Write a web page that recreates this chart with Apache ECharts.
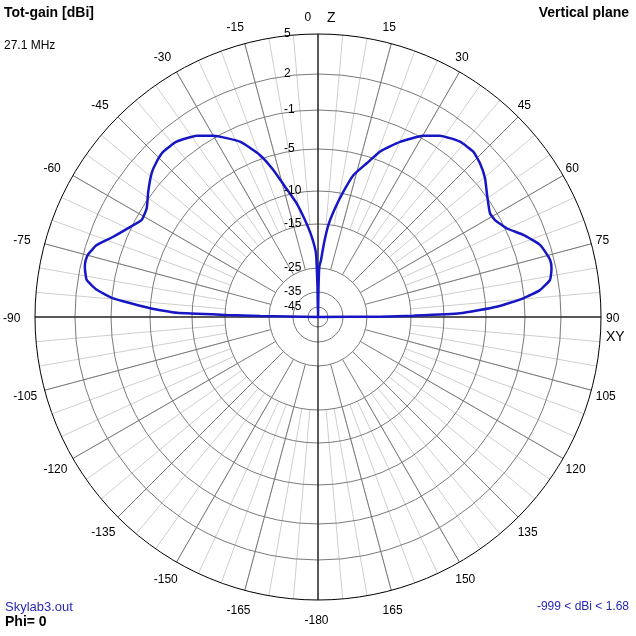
<!DOCTYPE html>
<html><head><meta charset="utf-8">
<script src="https://cdn.jsdelivr.net/npm/echarts@6/dist/echarts.min.js"></script>
<style>html,body{margin:0;padding:0;background:#fff}#c{width:636px;height:636px}</style>
</head><body><div id="c"></div>
<script>
// ---- data (angle from zenith, clockwise; negative = left side) ----
const angles = [-180, -90, -89.0, -88.7, -88.3, -87.0, -84.8, -83.0, -80.9, -77.9, -76.3, -74.6, -72.0, -68.6, -64.0, -61.2, -57.6, -53.6, -49.2, -46.1, -43.1, -38.9, -33.8, -30.0, -24.0, -19.7, -16.9, -14.2, -10.6, -7.6, -4.5, -1.8, -1.0, 0,
  1.0, 1.5, 3.0, 4.65, 6.4, 8.9, 11.4, 14.0, 17.6, 20.6, 25.1, 30.1, 33.9, 39.0, 43.2, 46.5, 50.3, 54.6, 58.9, 61.3, 64.8, 68.2, 72.0, 75.4, 76.8, 78.3, 80.9, 83.1, 84.8, 86.7, 88.5, 89.2, 89.7, 90, 180];
const gains = [-999, -999, -23.0, -15.4, -8.2, -5.0, -1.14, 0.32, 1.27, 1.62, 1.68, 1.58, 1.14, 0.08, -0.97, -1.59, -1.42, -0.67, 0.07, 0.41, 0.62, 0.52, -0.07, -0.8, -2.55, -4.6, -6.7, -9.0, -11.6, -14.3, -17.8, -21.7, -33, -999,
  -33, -24.7, -23.2, -19.3, -15.1, -12.4, -9.8, -7.6, -5.8, -4.1, -2.4, -0.8, -0.04, 0.55, 0.65, 0.36, -0.16, -0.94, -1.63, -1.53, -0.88, 0.18, 1.2, 1.6, 1.68, 1.62, 1.33, 0.38, -1.09, -3.87, -8.1, -14.65, -22.0, -999, -999];

const ringDb = [5, 2, -1, -5, -10, -15, -25, -35, -45];
const ringLabels = ['5', '2', '-1', '-5', '-10', '-15', '-25', '-35', '-45'];
const angleTicks = [0, 15, 30, 45, 60, 75, 90, 105, 120, 135, 150, 165, 180, 195, 210, 225, 240, 255, 270, 285, 300, 315, 330, 345];
const angleTickLabels = ['0', '15', '30', '45', '60', '75', '90', '105', '120', '135', '150', '165', '-180', '-165', '-150', '-135', '-120', '-105', '-90', '-75', '-60', '-45', '-30', '-15'];
const minorTicks = [];
for (let a = 0; a < 360; a += 5) minorTicks.push(a);

// ---- radial scale of the plot (dB -> fraction of outer radius) ----
const scaleFrac = [1, 0.8587, 0.7314, 0.5936, 0.4452, 0.3286, 0.1731, 0.0883, 0.0353];
function dbToFrac(db) {
  if (db >= ringDb[0]) return 1;
  for (let i = 0; i < ringDb.length - 1; i++) {
    if (db <= ringDb[i] && db >= ringDb[i + 1]) {
      const t = (ringDb[i] - db) / (ringDb[i] - ringDb[i + 1]);
      return scaleFrac[i] + t * (scaleFrac[i + 1] - scaleFrac[i]);
    }
  }
  const last = ringDb.length - 1;
  return Math.max(0, scaleFrac[last] * (db + 55) / 10);
}

const FONT = '"Liberation Sans", Arial, sans-serif';
const chart = echarts.init(document.getElementById('c'));

function spokeItem(color) {
  return function (params, api) {
    const a = api.value(1);
    const p1 = api.coord([api.value(0), a]);
    const p2 = api.coord([api.value(2), a]);
    return { type: 'line', shape: { x1: p1[0], y1: p1[1], x2: p2[0], y2: p2[1] }, style: { stroke: color, lineWidth: 1 } };
  };
}

chart.setOption({
  animation: false,
  backgroundColor: '#ffffff',
  polar: { center: [318, 317], radius: 283 },
  radiusAxis: { type: 'value', min: 0, max: 1, show: false },
  angleAxis: { type: 'value', min: 0, max: 360, startAngle: 90, clockwise: true, show: false },
  graphic: [
    { type: 'text', x: 4, y: 13, style: { text: 'Tot-gain [dBi]', font: 'bold 14px ' + FONT, fill: '#000', align: 'left', verticalAlign: 'middle' } },
    { type: 'text', x: 4, y: 46, style: { text: '27.1 MHz', font: '12px ' + FONT, fill: '#000', align: 'left', verticalAlign: 'middle' } },
    { type: 'text', x: 629, y: 13, style: { text: 'Vertical plane', font: 'bold 14px ' + FONT, fill: '#000', align: 'right', verticalAlign: 'middle' } },
    { type: 'text', x: 5, y: 607, style: { text: 'Skylab3.out', font: '13px ' + FONT, fill: '#2828b4', align: 'left', verticalAlign: 'middle' } },
    { type: 'text', x: 5, y: 622, style: { text: 'Phi= 0', font: 'bold 14px ' + FONT, fill: '#000', align: 'left', verticalAlign: 'middle' } },
    { type: 'text', x: 629, y: 607, style: { text: '-999 < dBi < 1.68', font: '12px ' + FONT, fill: '#2828b4', align: 'right', verticalAlign: 'middle' } },
    { type: 'text', x: 327, y: 18, style: { text: 'Z', font: '14px ' + FONT, fill: '#000', align: 'left', verticalAlign: 'middle' } },
    { type: 'text', x: 606, y: 337, style: { text: 'XY', font: '14px ' + FONT, fill: '#000', align: 'left', verticalAlign: 'middle' } }
  ],
  series: [
    { // minor 5° lines
      type: 'custom', coordinateSystem: 'polar', silent: true, z: 1,
      encode: { radius: 0, angle: 1 },
      data: minorTicks.map(a => [dbToFrac(-15), a, 1]),
      renderItem: spokeItem('#cfcfcf')
    },
    { // major 15° spokes
      type: 'custom', coordinateSystem: 'polar', silent: true, z: 2,
      encode: { radius: 0, angle: 1 },
      data: angleTicks.map(a => [dbToFrac(-25), a, 1]),
      renderItem: spokeItem('#7a7a7a')
    },
    { // rings
      type: 'custom', coordinateSystem: 'polar', silent: true, z: 3,
      encode: { radius: 0, angle: 1 },
      data: ringDb.map((d, i) => [dbToFrac(d), 0, i]),
      renderItem: function (params, api) {
        const c = api.coord([0, 0]);
        const p = api.coord([api.value(0), 0]);
        const r = Math.hypot(p[0] - c[0], p[1] - c[1]);
        const outer = api.value(2) === 0;
        return { type: 'circle', shape: { cx: c[0], cy: c[1], r: r }, style: { fill: 'none', stroke: outer ? '#000' : '#7a7a7a', lineWidth: 1 } };
      }
    },
    { // main axes (Z and XY)
      type: 'custom', coordinateSystem: 'polar', silent: true, z: 4,
      encode: { radius: 0, angle: 1 },
      data: [[1, 0], [1, 90]],
      renderItem: function (params, api) {
        const a = api.value(1);
        const p1 = api.coord([1, a]);
        const p2 = api.coord([1, a + 180]);
        return { type: 'line', shape: { x1: p1[0], y1: p1[1], x2: p2[0], y2: p2[1] }, style: { stroke: '#000', lineWidth: 1 } };
      }
    },
    { // pattern
      type: 'line', coordinateSystem: 'polar', z: 5, symbol: 'none', smooth: 0.15, clip: false,
      data: angles.map((a, i) => [dbToFrac(gains[i]), (a + 360) % 360]),
      lineStyle: { color: '#1616c4', width: 2.5 }
    },
    { // ring labels
      type: 'custom', coordinateSystem: 'polar', silent: true, z: 6,
      encode: { radius: 0, angle: 1 },
      data: ringDb.map((d, i) => [dbToFrac(d), 0, i]),
      renderItem: function (params, api) {
        const p = api.coord([api.value(0), 0]);
        return { type: 'text', x: p[0] - 34, y: p[1], style: { text: ringLabels[api.value(2)], font: '12px ' + FONT, fill: '#000', align: 'left', verticalAlign: 'middle' } };
      }
    },
    { // angle labels
      type: 'custom', coordinateSystem: 'polar', silent: true, z: 6,
      encode: { radius: 0, angle: 1 },
      data: angleTicks.map((a, i) => [301.5 / 283, a, i]),
      renderItem: function (params, api) {
        const p = api.coord([api.value(0), api.value(1)]);
        return { type: 'text', x: p[0] - 13.5, y: p[1] + 2, style: { text: angleTickLabels[api.value(2)], font: '12px ' + FONT, fill: '#000', align: 'left', verticalAlign: 'middle' } };
      }
    }
  ]
});
</script>
</body></html>
